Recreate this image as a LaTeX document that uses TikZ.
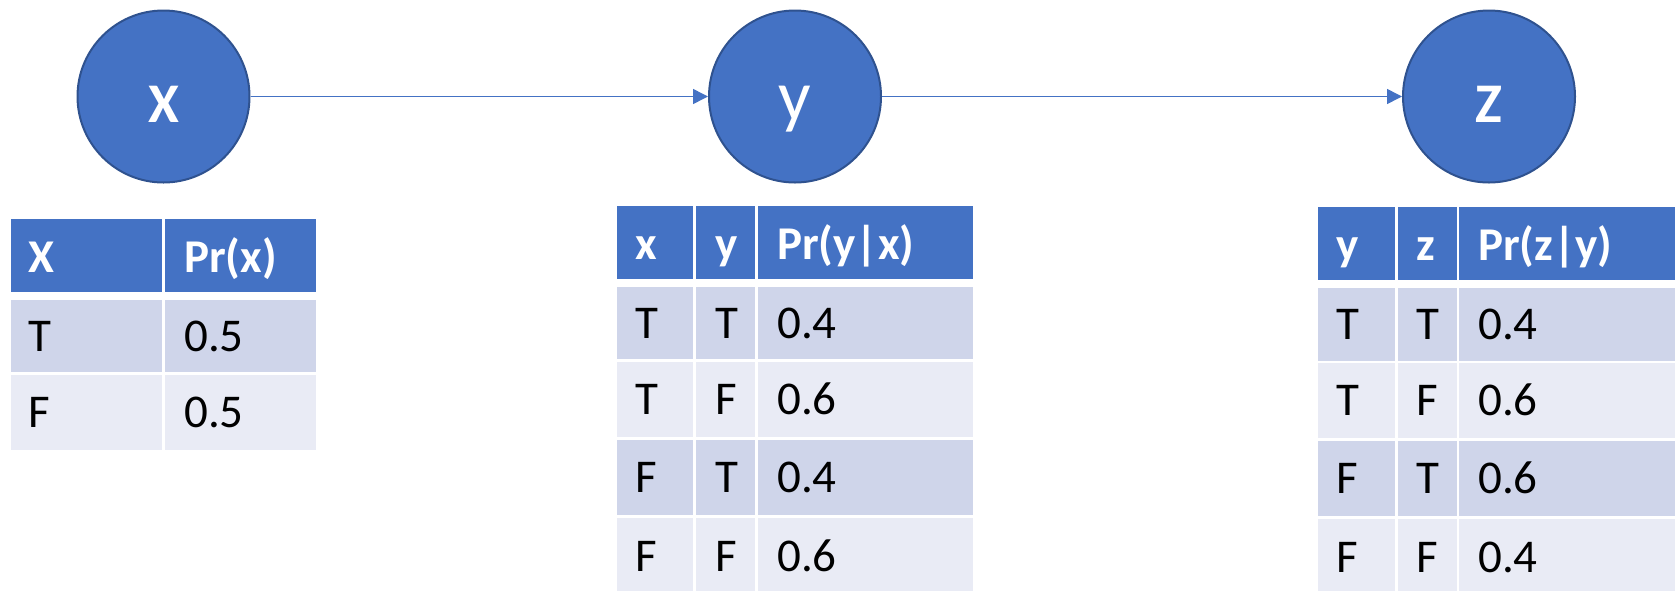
\documentclass[tikz,border=0pt]{standalone}
\usepackage{fontspec}
\setmainfont{Carlito}
\usetikzlibrary{arrows.meta}
\definecolor{accent}{HTML}{4472C4}
\definecolor{accentdark}{HTML}{2F528F}
\definecolor{bandA}{HTML}{CFD5EA}
\definecolor{bandB}{HTML}{E9EBF5}
\newcommand\tcell[5]{\fill[#5] (#1,#2) rectangle (#3,#4);}
\begin{document}
\begin{tikzpicture}[x=1pt,y=-1pt,
  var/.style={circle, fill=accent, draw=accentdark, line width=2pt, minimum size=172pt, inner sep=0pt,
    text=white, font=\fontsize{56}{60}\selectfont\bfseries, text height=51pt, text depth=0pt},
  varlc/.style={var, font=\fontsize{72}{76}\selectfont, text height=47pt},
  link/.style={draw=accent, line width=1.5pt, -{Triangle[length=15pt,width=15pt]}},
  hd/.style={anchor=base west, inner sep=0pt, text=white, font=\fontsize{47}{50}\selectfont\bfseries},
  bd/.style={anchor=base west, inner sep=0pt, text=black, font=\fontsize{47}{50}\selectfont},
]
\useasboundingbox (0,0) rectangle (1675,590);

% variables
\node[var] (X) at (163.5,96.5) {X};
\node[varlc] (Y) at (795,96.5) {y};
\node[var] (Z) at (1489,96.5) {Z};
\draw[link] (X.east) -- (Y.west);
\draw[link] (Y.east) -- (Z.west);

% table 1
\tcell{11}{219}{162}{292}{accent}
\tcell{165}{219}{316}{292}{accent}
\tcell{11}{300}{162}{372}{bandA}
\tcell{165}{300}{316}{372}{bandA}
\tcell{11}{375}{162}{450}{bandB}
\tcell{165}{375}{316}{450}{bandB}
\node[hd] (a00) at (28,272.5) {X};
\node[hd] (a01) at (184,272.5) {Pr(x)};
\node[bd] (a10) at (28,351) {T};
\node[bd] (a11) at (184,351) {0.5};
\node[bd] (a20) at (28,427.5) {F};
\node[bd] (a21) at (184,427.5) {0.5};

% table 2
\tcell{617}{206}{693}{279}{accent}
\tcell{696}{206}{755}{279}{accent}
\tcell{758}{206}{973}{279}{accent}
\tcell{617}{287}{693}{359}{bandA}
\tcell{696}{287}{755}{359}{bandA}
\tcell{758}{287}{973}{359}{bandA}
\tcell{617}{362}{693}{437}{bandB}
\tcell{696}{362}{755}{437}{bandB}
\tcell{758}{362}{973}{437}{bandB}
\tcell{617}{440}{693}{515}{bandA}
\tcell{696}{440}{755}{515}{bandA}
\tcell{758}{440}{973}{515}{bandA}
\tcell{617}{518}{693}{595}{bandB}
\tcell{696}{518}{755}{595}{bandB}
\tcell{758}{518}{973}{595}{bandB}
\node[hd] (b00) at (635,259.5) {x};
\node[hd] (b01) at (715,259.5) {y};
\node[hd] (b02) at (777,259.5) {Pr(y|x)};
\node[bd] (b10) at (635,338) {T};
\node[bd] (b11) at (715,338) {T};
\node[bd] (b12) at (777,338) {0.4};
\node[bd] (b20) at (635,414.5) {T};
\node[bd] (b21) at (715,414.5) {F};
\node[bd] (b22) at (777,414.5) {0.6};
\node[bd] (b30) at (635,492.5) {F};
\node[bd] (b31) at (715,492.5) {T};
\node[bd] (b32) at (777,492.5) {0.4};
\node[bd] (b40) at (635,571) {F};
\node[bd] (b41) at (715,571) {F};
\node[bd] (b42) at (777,571) {0.6};

% table 3
\tcell{1318}{207}{1395}{280}{accent}
\tcell{1398}{207}{1457}{280}{accent}
\tcell{1459}{207}{1675}{280}{accent}
\tcell{1318}{288}{1395}{361}{bandA}
\tcell{1398}{288}{1457}{361}{bandA}
\tcell{1459}{288}{1675}{361}{bandA}
\tcell{1318}{363}{1395}{438}{bandB}
\tcell{1398}{363}{1457}{438}{bandB}
\tcell{1459}{363}{1675}{438}{bandB}
\tcell{1318}{441}{1395}{516}{bandA}
\tcell{1398}{441}{1457}{516}{bandA}
\tcell{1459}{441}{1675}{516}{bandA}
\tcell{1318}{519}{1395}{596}{bandB}
\tcell{1398}{519}{1457}{596}{bandB}
\tcell{1459}{519}{1675}{596}{bandB}
\node[hd] (c00) at (1336,260.5) {y};
\node[hd] (c01) at (1416,260.5) {z};
\node[hd] (c02) at (1478,260.5) {Pr(z|y)};
\node[bd] (c10) at (1336,339.5) {T};
\node[bd] (c11) at (1416,339.5) {T};
\node[bd] (c12) at (1478,339.5) {0.4};
\node[bd] (c20) at (1336,415.5) {T};
\node[bd] (c21) at (1416,415.5) {F};
\node[bd] (c22) at (1478,415.5) {0.6};
\node[bd] (c30) at (1336,493.5) {F};
\node[bd] (c31) at (1416,493.5) {T};
\node[bd] (c32) at (1478,493.5) {0.6};
\node[bd] (c40) at (1336,572) {F};
\node[bd] (c41) at (1416,572) {F};
\node[bd] (c42) at (1478,572) {0.4};
\end{tikzpicture}
\end{document}
